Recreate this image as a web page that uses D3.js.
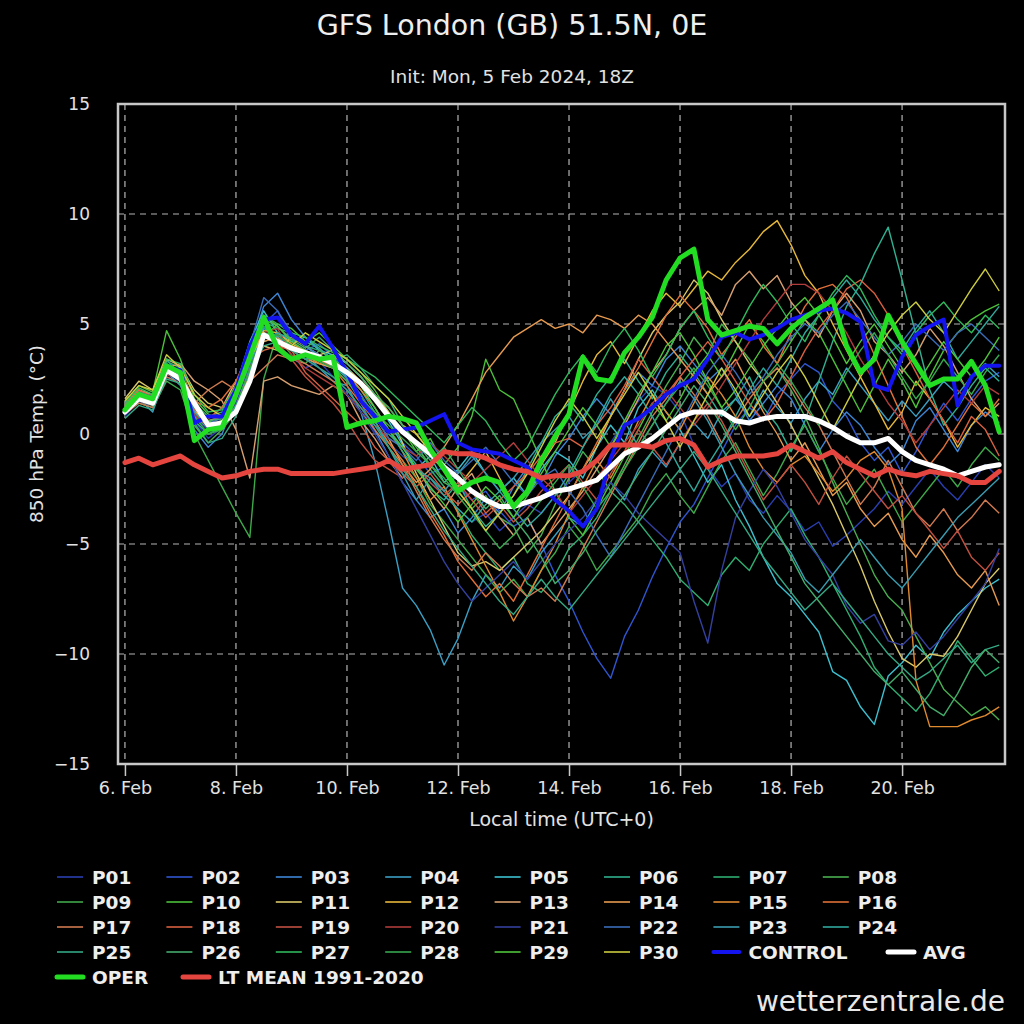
<!DOCTYPE html>
<html><head><meta charset="utf-8">
<script src="https://cdn.jsdelivr.net/npm/d3@7"></script>
<style>body{margin:0;background:#000}svg{display:block}</style>
</head><body>
<svg id="c" width="1024" height="1024"></svg>
<script>
// ---------- DATA ----------
const runStart = Date.UTC(2024, 1, 6, 0);           // first 6-hourly step (Init 5 Feb 18Z + 6h)
const times = d3.range(64).map(i => new Date(runStart + i * 6 * 3600 * 1000));
const xTickDays = [6, 8, 10, 12, 14, 16, 18, 20];
const yTickValues = [-15, -10, -5, 0, 5, 10, 15];

const P01=[0.8,1.5,1.2,2.6,2.4,0.6,-0.2,0.3, 1.2,3.0,4.6,4.0,3.5,3.0,3.3,2.6, 2.0,1.2,0.1,-0.4,-1.0,-1.5,-2.2,-2.8, -3.4,-4.0,-3.6,-4.4,-3.8,-3.2,-3.6,-2.8, -2.2,-1.6,-1.2,-0.4,0.6,1.5,2.2,1.8, 1.0,-0.5,-1.5,-2.4,-1.8,-3.0,-3.6,-2.8, -3.5,-4.4,-4.0,-5.1,-4.6,-4.0,-3.4,-2.6, -3.2,-2.4,-1.6,-2.4,-3.0,-2.2,-1.4,-2.0];
const P02=[1.1,1.8,1.3,3.2,2.8,1.3,0.5,0.9, 1.8,3.5,5.0,5.6,4.2,3.8,4.1,3.5, 3.0,2.4,1.6,0.8,-0.4,-1.0,-1.8,-1.5, -2.4,-3.0,-2.6,-3.5,-4.2,-3.8,-5.0,-6.4, -7.6,-9.0,-10.2,-11.1,-9.2,-8.0,-6.5,-5.2, -4.0,-3.2,-2.0,-0.8,0.4,1.2,0.6,1.8, 2.5,3.2,2.8,1.5,0.8,-0.4,-1.2,-0.6, -1.8,-0.8,0.4,1.4,0.6,1.6,2.4,2.8];
const P03=[1.4,2.0,1.6,3.4,2.6,0.2,-0.6,0.0, 1.6,3.8,5.8,6.4,5.2,4.4,3.9,3.2, 2.5,1.4,0.2,-1.0,-2.2,-3.0,-3.8,-3.4, -4.5,-3.8,-2.9,-3.6,-2.4,-1.5,-2.2,-1.0, -0.2,0.8,1.6,0.9,2.0,2.8,2.2,3.4, 4.0,3.2,2.4,3.0,1.8,0.6,1.4,2.2, 1.6,0.4,-0.8,0.2,1.0,0.4,-0.6,-1.4, -0.8,0.6,1.2,0.2,-0.8,0.4,1.0,0.5];
const P04=[0.9,1.6,1.0,2.8,2.2,0.8,0.2,0.6, 1.4,3.2,4.8,4.4,4.0,3.6,3.0,2.4, 2.2,1.0,-1.2,-4.0,-7.0,-7.8,-8.9,-10.5, -9.3,-7.6,-6.4,-7.0,-6.0,-6.6,-5.4,-4.6, -3.8,-4.2,-3.0,-2.2,-3.0,-1.6,-0.8,-1.5, -0.4,0.5,-0.2,1.0,1.6,0.8,2.0,1.2, 0.5,1.6,2.4,1.8,3.0,2.2,1.4,0.6, 1.5,0.8,1.6,2.4,1.8,2.6,3.2,2.6];
const P05=[1.2,1.7,1.5,3.0,2.6,1.0,0.6,0.8, 2.2,4.2,5.6,4.6,4.2,4.4,3.8,3.6, 3.2,2.6,1.8,0.6,-0.5,-1.6,-1.0,-2.2, -1.6,-0.8,-1.8,-2.6,-2.0,-2.8,-1.6,-0.8, -1.2,-2.0,-0.6,0.4,-0.4,1.2,2.0,1.0, 0.2,-1.0,-2.2,-1.4,-3.0,-4.2,-5.6,-6.8, -7.4,-8.2,-9.0,-10.8,-11.2,-12.4,-13.2,-11.0, -10.4,-9.6,-10.2,-9.0,-8.2,-7.6,-7.0,-6.6];
const P06=[1.0,1.5,1.3,2.8,2.7,0.9,0.2,0.4, 1.5,3.3,4.9,4.3,3.8,3.4,3.6,3.0, 2.6,2.0,1.0,0.0,-0.6,-1.4,-2.5,-3.0, -2.2,-3.4,-4.2,-3.6,-2.8,-1.6,-0.4,0.8, 1.4,0.6,1.8,2.6,3.4,2.4,1.6,2.8, 3.6,2.8,1.8,0.8,1.6,2.6,1.2,0.4, -0.8,0.6,2.4,4.2,5.8,6.8,8.2,9.4, 7.0,4.5,2.0,0.4,1.2,2.2,3.0,2.4];
const P07=[1.3,1.9,1.8,3.3,3.0,1.4,0.8,1.0, 2.0,3.6,5.1,4.8,4.6,4.0,3.8,3.4, 3.6,3.0,2.2,1.6,0.4,-0.4,-1.6,-2.4, -3.5,-4.6,-5.4,-6.2,-5.6,-6.8,-7.2,-6.4, -5.2,-4.6,-3.8,-2.6,-3.2,-4.0,-4.8,-5.6, -6.6,-7.2,-7.8,-6.4,-5.6,-6.2,-5.0,-4.2, -3.4,-4.6,-5.6,-6.8,-8.0,-9.2,-10.6,-11.4, -12.0,-12.6,-11.8,-10.6,-9.4,-10.2,-11.0,-10.6];
const P08=[1.1,1.6,1.4,2.9,2.5,0.4,-0.4,0.2, 1.0,2.8,4.2,4.4,3.6,3.2,3.8,3.4, 2.8,2.2,1.6,0.8,0.2,-0.6,-1.4,-2.2, -2.6,-3.4,-2.8,-3.8,-4.2,-5.4,-4.6,-3.2, -2.0,-0.8,-1.6,-2.6,-1.4,-0.2,1.0,2.2, 3.2,4.4,3.6,5.0,4.2,3.4,2.4,3.0, 2.0,0.8,-0.6,-2.2,-3.6,-5.0,-6.4,-7.4, -8.0,-9.2,-10.4,-11.6,-12.2,-12.8,-12.4,-13.0];
const P09=[1.0,1.4,1.2,2.4,2.0,0.0,-1.2,-2.4, -3.6,-4.7,2.5,4.6,4.0,3.6,3.2,3.0, 2.4,1.8,0.6,-0.4,-1.2,-2.0,-3.2,-4.0, -4.8,-5.6,-6.4,-7.2,-6.6,-7.4,-6.2,-5.4, -4.2,-5.0,-6.2,-5.4,-4.6,-3.8,-2.6,-1.8, -2.8,-3.6,-2.4,-1.2,-0.4,-1.6,-2.8,-1.8, -0.6,0.4,-0.8,-2.0,-3.2,-2.4,-1.6,-2.8, -4.0,-3.2,-2.4,-1.6,-2.4,-1.4,-0.6,-1.2];
const P10=[1.5,2.2,1.9,4.7,3.4,1.6,0.9,0.6, 1.8,3.4,4.4,5.0,4.8,4.2,4.6,4.0, 3.4,2.8,2.0,1.0,0.2,-0.8,-0.2,-1.4, -0.6,0.8,3.4,2.0,1.6,0.2,-1.2,-2.6, -3.8,-4.6,-3.4,-2.2,-1.0,0.2,1.4,0.6, 1.6,2.8,3.6,2.6,3.8,5.0,4.2,3.2, 4.2,5.2,4.6,3.4,2.2,1.0,2.2,3.4, 2.4,1.2,2.6,3.8,4.6,5.2,5.6,5.9];
const P11=[1.6,2.4,2.0,3.4,3.1,2.0,1.4,1.2, 2.4,3.0,4.0,3.8,4.4,4.0,3.6,3.8, 3.2,2.6,1.8,1.0,-0.4,-1.8,-3.0,-4.2, -5.4,-6.0,-5.8,-6.2,-5.6,-5.0,-4.4,-3.6, -2.8,-1.6,-0.6,0.8,2.0,3.4,4.6,5.4, 6.0,7.0,6.4,5.2,4.2,3.2,2.4,1.4, 0.4,-0.8,-2.0,-3.2,-4.6,-6.0,-7.6,-9.0, -10.2,-10.6,-10.0,-10.1,-9.2,-8.0,-6.8,-6.1];
const P12=[1.3,1.9,1.6,3.1,2.9,1.1,0.3,0.5, 1.6,3.4,4.7,4.6,4.1,3.8,3.4,3.6, 3.0,2.4,1.8,1.2,0.4,0.0,-0.8,-1.6, -2.4,-1.6,-0.8,-2.0,-3.2,-2.6,-1.4,-0.4, 1.0,2.4,3.6,4.2,3.2,4.4,5.6,6.4, 5.8,6.6,7.4,7.0,7.8,8.4,9.2,9.7, 8.6,7.2,6.4,5.0,3.8,2.6,1.4,0.2, 1.0,2.4,1.6,0.6,-0.6,0.4,1.2,0.8];
const P13=[1.4,2.0,1.8,3.0,3.2,2.4,2.0,1.5, 0.2,-2.0,2.4,2.6,2.2,2.0,1.8,2.2, 1.8,0.6,-0.2,-1.2,-2.0,-1.4,-2.6,-3.4, -2.4,-1.8,-3.0,-3.8,-4.6,-3.8,-5.0,-4.2, -3.4,-2.6,-1.6,-0.6,0.4,1.6,2.8,3.6, 4.8,5.6,6.2,5.4,6.8,7.4,6.6,7.2, 6.0,5.2,4.4,5.6,6.4,5.6,4.2,3.6, 2.8,3.6,4.8,4.0,2.8,1.6,0.8,1.4];
const P14=[1.2,1.7,1.5,2.7,2.8,1.2,0.6,0.8, 1.4,2.6,4.2,4.4,3.8,3.4,3.2,3.0, 2.4,1.6,0.8,-0.2,-1.4,-2.2,-1.6,-0.6, 0.4,1.6,2.8,3.6,4.4,4.8,5.2,4.8, 5.0,4.6,5.4,5.2,4.8,5.4,5.0,4.2, 3.4,2.6,1.8,2.6,3.4,2.2,1.0,0.0, -1.2,-0.4,-1.6,-2.8,-2.2,-3.4,-4.2,-3.6, -4.8,-5.6,-4.6,-5.4,-6.4,-7.0,-6.2,-7.8];
const P15=[1.0,1.6,1.4,2.8,2.6,1.0,0.4,0.2, 1.4,3.0,4.4,4.2,3.9,3.6,3.2,3.4, 2.8,2.0,1.2,0.2,-0.8,-2.0,-3.0,-2.4, -3.6,-4.8,-6.0,-7.2,-8.5,-7.4,-6.2,-5.0, -3.6,-2.4,-1.2,-2.0,-0.8,0.6,1.8,1.0, 0.2,1.4,2.6,1.8,0.8,-0.6,-1.6,-2.2, -1.4,-1.0,-1.8,-2.6,-2.0,-1.2,-0.8,-1.6, -3.4,-11.2,-13.3,-13.3,-13.3,-13.0,-12.8,-12.4];
const P16=[1.3,2.0,1.7,3.1,2.9,1.5,1.2,1.6, 2.4,3.8,4.6,4.2,4.0,3.8,3.4,3.0, 2.2,1.4,0.6,-0.4,-1.2,-2.4,-3.6,-4.6, -5.8,-6.6,-7.4,-6.8,-7.6,-6.4,-5.2,-4.0, -2.8,-1.6,-0.4,0.8,2.0,3.0,4.2,5.4, 6.3,5.6,4.8,3.6,4.4,5.2,4.0,3.2, 4.6,5.8,6.6,6.8,6.2,5.0,3.6,2.2, 0.8,-0.6,-1.4,-0.6,0.4,1.4,0.8,1.6];
const P17=[0.9,1.4,1.2,2.6,2.3,1.4,2.0,2.4, 2.0,2.4,3.0,3.6,3.4,3.2,2.8,2.4, 1.8,1.0,0.2,-0.6,-1.4,-2.6,-3.8,-4.8, -5.6,-6.2,-5.4,-6.0,-6.8,-7.4,-7.0,-7.6, -6.4,-5.2,-4.0,-2.8,-1.6,-0.4,0.8,1.6, 2.6,1.8,0.8,-0.4,0.6,1.6,2.4,3.0, 2.2,1.2,0.4,-0.8,-2.0,-3.2,-2.4,-1.2, -2.4,-3.6,-4.2,-3.4,-4.4,-3.8,-3.0,-3.6];
const P18=[1.1,1.7,1.5,3.0,2.8,1.1,0.7,1.2, 2.2,3.4,3.8,4.0,3.8,2.8,2.2,1.6, 1.0,0.4,-0.6,-1.2,-1.8,-2.4,-1.8,-2.6, -3.2,-2.6,-3.6,-3.0,-2.4,-1.8,-1.0,-0.4, -0.2,-0.6,0.4,1.2,2.2,3.4,2.6,1.8, 2.6,3.4,4.2,3.4,2.4,1.4,0.6,1.4, 2.6,3.8,4.8,5.6,6.6,7.0,6.4,5.4, 4.0,2.8,1.6,0.6,-0.4,0.8,0.2,-1.0];
const P19=[1.2,1.8,1.4,2.9,2.6,0.8,0.4,0.6, 1.6,3.2,4.4,4.1,3.4,2.6,2.0,1.4, 0.6,-0.4,-1.2,-1.6,-2.0,-1.4,-2.2,-2.8, -2.2,-3.0,-3.8,-3.2,-4.0,-3.4,-2.6,-2.0, -1.4,-2.2,-3.0,-1.8,-0.8,0.2,-0.6,-1.4, -0.4,0.6,1.4,0.6,-0.6,-1.8,-3.0,-2.2, -1.4,-2.2,-3.2,-2.0,-1.0,-1.8,-2.6,-3.4, -2.8,-3.6,-4.4,-5.2,-4.4,-5.6,-6.2,-5.4];
const P20=[1.0,1.5,1.3,2.7,2.5,0.9,0.3,0.5, 1.4,3.0,4.6,4.8,3.6,3.0,2.6,2.2, 1.8,1.2,0.4,-0.2,-0.6,-1.0,-0.4,-1.0, -1.6,-2.2,-1.6,-1.0,-0.4,-1.2,-2.0,-2.6, -3.6,-2.8,-2.0,-1.2,-0.4,0.4,1.4,2.0, 1.2,0.4,1.2,2.2,3.2,4.2,5.2,6.0, 6.8,6.8,6.4,5.6,4.6,3.4,2.4,1.4, 0.6,-0.4,0.4,1.2,2.0,1.4,2.2,1.8];
const P21=[0.9,1.5,1.4,2.8,2.4,0.7,0.2,0.5, 1.4,3.2,4.4,4.2,3.8,3.4,3.0,2.6, 1.8,1.0,0.0,-1.0,-2.2,-3.4,-4.6,-5.8, -6.8,-7.6,-7.0,-6.4,-5.8,-6.6,-5.8,-5.0, -4.4,-3.8,-3.0,-2.2,-2.8,-3.6,-4.2,-4.8, -5.4,-7.6,-9.5,-6.2,-3.8,-2.6,-1.6,-2.4, -3.6,-4.8,-5.6,-6.4,-7.8,-8.6,-8.2,-9.4, -9.6,-9.0,-9.8,-9.2,-8.4,-7.6,-6.8,-5.2];
const P22=[1.3,1.9,1.7,3.2,2.7,1.2,0.5,0.7, 1.9,4.0,6.2,5.6,4.6,4.0,3.6,3.2, 2.6,1.8,0.8,-0.2,-0.6,-1.2,-0.4,-1.2, -1.8,-1.2,-0.6,-1.4,-2.2,-2.8,-2.0,-1.6, -2.6,-3.4,-4.6,-5.6,-4.4,-3.2,-2.0,-0.8, 0.4,1.6,2.8,3.6,2.8,1.8,2.6,3.6, 4.4,5.0,4.6,5.4,6.0,5.2,4.4,3.6, 4.2,5.0,4.4,3.8,4.6,5.0,4.4,3.8];
const P23=[1.0,1.6,1.5,3.0,2.7,1.0,0.3,0.4, 1.6,3.2,4.6,4.4,4.6,4.0,3.5,3.2, 2.6,1.6,0.6,-0.6,-1.8,-3.0,-2.0,-2.6, -1.8,-1.0,-1.8,-2.6,-2.0,-1.2,-0.4,0.2, 0.8,-0.2,0.4,1.6,0.6,-0.6,0.4,1.4, 2.4,1.6,0.6,-0.6,-1.8,-2.8,-3.8,-4.6, -5.4,-6.6,-7.2,-6.4,-5.6,-4.8,-5.6,-6.4, -7.0,-6.2,-5.4,-4.6,-3.8,-3.2,-2.6,-2.0];
const P24=[1.1,1.7,1.4,2.9,2.6,0.6,0.0,0.3, 1.3,2.9,4.3,4.6,4.3,4.2,3.9,3.4, 3.0,2.2,1.2,0.2,-0.8,-1.6,-2.0,-2.8, -3.4,-4.0,-3.2,-2.6,-3.4,-4.2,-3.6,-2.8, -1.8,-0.6,0.6,1.8,2.6,1.8,0.8,-0.4, -1.6,-2.6,-1.4,-0.4,0.8,2.0,3.0,2.2, 3.4,4.6,5.4,6.2,7.0,6.2,5.2,4.4, 3.8,4.8,5.6,4.6,3.4,4.2,5.0,5.8];
const P25=[0.7,1.3,1.1,2.5,2.3,0.5,-0.4,-0.2, 0.8,2.6,4.0,4.2,3.8,3.4,3.0,2.6, 2.0,1.2,0.4,-0.6,-1.6,-2.4,-3.4,-4.4, -5.2,-6.0,-6.8,-7.6,-8.2,-7.4,-6.6,-7.4, -8.0,-7.2,-6.4,-5.6,-4.8,-4.0,-3.2,-2.4, -1.6,-0.8,-1.6,-2.6,-3.6,-4.6,-5.6,-6.4, -7.2,-8.0,-7.4,-6.8,-7.6,-8.4,-9.2,-10.0, -10.6,-11.2,-10.8,-10.2,-9.6,-10.4,-9.8,-9.6];
const P26=[1.2,1.8,1.6,3.1,2.8,1.2,0.6,0.7, 1.9,3.6,5.2,4.9,4.3,3.9,4.4,3.8, 3.2,2.6,1.8,1.2,0.4,-0.4,-1.2,-0.6, -1.6,-2.6,-3.4,-2.8,-3.8,-4.6,-5.6,-6.8, -6.2,-5.4,-4.4,-3.6,-2.8,-1.8,-0.8,0.2, 1.2,2.2,1.4,0.4,-0.8,-2.0,-3.2,-4.4, -5.6,-6.8,-7.6,-8.4,-9.2,-10.0,-10.8,-11.4, -10.8,-11.6,-12.4,-12.8,-11.8,-10.6,-9.8,-10.4];
const P27=[1.4,2.1,1.8,3.4,3.2,1.8,1.0,1.1, 2.2,3.8,5.4,5.0,4.6,4.4,4.0,3.7, 3.4,3.0,2.6,2.0,1.4,0.8,0.2,-0.4, 0.4,1.2,0.6,-0.4,-1.2,-0.6,0.6,1.8, 2.8,3.6,2.8,4.0,4.8,3.8,2.6,3.6, 4.8,5.6,4.4,3.4,4.6,5.8,6.8,6.0, 5.0,4.2,5.4,6.4,7.2,6.6,5.4,4.4, 3.6,4.6,5.4,6.0,5.2,4.6,5.4,4.8];
const P28=[1.0,1.6,1.3,2.8,2.5,0.8,0.0,0.2, 1.2,3.0,4.5,4.5,4.0,3.7,3.3,3.0, 2.4,1.6,1.0,0.4,-0.2,-0.8,-1.4,-2.0, -2.8,-3.6,-4.4,-5.2,-4.6,-3.8,-3.0,-2.2, -1.4,-2.4,-3.4,-2.6,-1.6,-0.6,0.4,1.4, 2.2,3.0,2.2,1.2,0.2,1.2,2.4,3.2, 2.4,1.4,0.4,1.6,2.8,3.8,4.6,3.6, 2.6,1.6,2.4,3.4,2.6,1.8,2.8,3.6];
const P29=[1.3,1.9,1.5,3.0,2.9,1.3,0.6,0.3, 1.6,3.6,5.4,4.9,4.2,3.8,3.4,3.2, 2.8,2.2,1.2,0.2,-0.6,-1.6,-2.4,-3.2, -4.0,-3.2,-2.4,-3.0,-3.8,-2.8,-1.8,-0.8, 0.2,1.2,0.4,-0.6,0.6,1.8,2.8,4.0, 4.6,3.6,2.4,1.2,2.0,3.0,4.0,4.8, 5.6,6.2,5.4,4.4,3.2,4.2,5.0,4.0, 3.0,2.2,3.2,4.2,3.4,2.6,3.4,4.4];
const P30=[1.5,2.2,2.0,3.6,3.0,1.8,1.2,0.8, 2.0,3.4,4.6,4.2,4.0,4.6,4.2,3.8, 3.4,2.8,2.2,1.6,0.8,0.0,-0.8,-1.6, -2.6,-3.4,-4.4,-3.6,-2.8,-1.8,-0.6,0.6, 1.6,0.8,-0.2,0.8,1.8,2.8,1.8,0.6, -0.6,0.6,1.8,3.0,2.0,0.8,1.8,2.8, 3.6,2.6,1.4,0.2,1.4,2.6,3.6,4.6, 5.4,6.0,5.2,4.6,5.6,6.6,7.5,6.5];

const CONTROL=[1.0,1.7,1.5,3.0,2.9,0.5,0.8,0.8, 2.0,4.0,5.2,5.3,4.5,4.1,4.9,3.9, 2.8,1.5,0.8,0.1,0.2,0.3,0.6,0.9, -0.4,-0.7,-0.8,-0.9,-1.2,-1.5,-2.3,-3.0, -3.5,-4.2,-3.4,-1.1,0.4,0.7,1.2,1.8, 2.2,2.5,3.4,4.4,4.6,4.3,4.5,4.8, 5.2,5.4,5.6,5.7,5.5,5.1,2.2,2.0, 3.5,4.5,4.9,5.2,1.3,2.6,3.1,3.1];
const AVG=[1.0,1.6,1.4,2.9,2.5,1.4,0.4,0.5, 1.0,2.4,4.5,4.2,3.9,3.7,3.5,3.2, 2.8,2.3,1.6,0.8,0.1,-0.4,-0.9,-1.5, -2.0,-2.6,-3.0,-3.3,-3.3,-3.1,-2.9,-2.6, -2.5,-2.3,-2.1,-1.5,-0.9,-0.6,-0.2,0.3, 0.8,1.0,1.0,1.0,0.6,0.5,0.7,0.8, 0.8,0.8,0.6,0.3,-0.1,-0.4,-0.4,-0.2, -0.8,-1.2,-1.4,-1.6,-1.9,-1.7,-1.5,-1.4];
const OPER=[1.1,1.8,1.6,3.1,2.8,-0.3,0.2,0.3, 1.8,3.5,5.3,3.9,3.4,3.6,3.4,3.5, 0.3,0.5,0.6,0.8,0.7,0.5,-0.7,-1.6, -2.6,-2.2,-2.0,-2.2,-3.3,-2.6,-1.2,-0.1, 0.9,3.5,2.5,2.4,3.7,4.4,5.3,7.0, 8.0,8.4,5.2,4.5,4.7,4.9,4.8,4.1, 4.8,5.3,5.7,6.1,4.0,2.8,3.4,5.4, 4.2,3.2,2.2,2.5,2.5,3.3,2.2,0.1];
const LT_MEAN=[-1.3,-1.1,-1.4,-1.2,-1.0,-1.4,-1.7,-2.0, -1.9,-1.7,-1.6,-1.6,-1.8,-1.8,-1.8,-1.8, -1.7,-1.6,-1.5,-1.2,-1.6,-1.5,-1.4,-0.8, -0.9,-0.9,-1.1,-1.4,-1.6,-1.7,-2.0,-1.9, -1.9,-1.7,-1.2,-0.5,-0.5,-0.5,-0.6,-0.3, -0.2,-0.5,-1.5,-1.2,-1.0,-1.0,-1.0,-0.9, -0.5,-0.8,-1.1,-0.8,-1.3,-1.6,-1.9,-1.6, -1.8,-1.9,-1.7,-1.8,-1.9,-2.2,-2.2,-1.7];

const members=[P01,P02,P03,P04,P05,P06,P07,P08,P09,P10,P11,P12,P13,P14,P15,P16,P17,P18,P19,P20,P21,P22,P23,P24,P25,P26,P27,P28,P29,P30];
const memberNames = members.map((_, i) => "P" + String(i + 1).padStart(2, "0"));

// ---------- STYLE ----------
const memberColors=["#2a3fb0","#2f56d0","#3d86d6","#3a9fc4","#3cc0d0","#2fb090","#2fae72","#4aae50","#3fa84a","#4cc03a",
 "#d8c86a","#e6b83a","#d8a070","#e69a50","#e08a30","#e07038","#d07a50","#d86040","#c05040","#b03c3c",
 "#34409e","#3a6cb8","#3a9cb0","#30a89c","#34a884","#44ac6c","#30b85c","#38a850","#50c43c","#cccc40"];
const special=[
  {name:"CONTROL", data:CONTROL, color:"#1414f0", w:4},
  {name:"AVG", data:AVG, color:"#ffffff", w:5},
  {name:"OPER", data:OPER, color:"#22dd22", w:5},
  {name:"LT MEAN 1991-2020", data:LT_MEAN, color:"#e5453f", w:5}
];
const FONT = "'DejaVu Sans', Verdana, sans-serif";
const TXT = "#e2e2e2";

// ---------- CHART ----------
const svg = d3.select("#c");
svg.append("rect").attr("width",1024).attr("height",1024).attr("fill","#000");

const L=118, R=1005, T=104, B=764;
const x = d3.scaleUtc().domain([Date.UTC(2024,1,5,21), Date.UTC(2024,1,21,20,30)]).range([L,R]);
const y = d3.scaleLinear().domain([-15,15]).range([B,T]);

svg.append("text").attr("x",512).attr("y",35).attr("text-anchor","middle")
  .attr("font-family",FONT).attr("font-size",28.5).attr("fill","#eeeeee").text("GFS London (GB) 51.5N, 0E");
svg.append("text").attr("x",512).attr("y",83).attr("text-anchor","middle")
  .attr("font-family",FONT).attr("font-size",18.5).attr("fill",TXT).text("Init: Mon, 5 Feb 2024, 18Z");

const xTicks = xTickDays.map(d => new Date(Date.UTC(2024,1,d)));

// grid
const grid = svg.append("g").attr("stroke","#b4b4b4").attr("stroke-width",1.2).attr("stroke-dasharray","6,5");
grid.selectAll(".gx").data(xTicks).join("line")
  .attr("x1",d=>x(d)).attr("x2",d=>x(d)).attr("y1",T).attr("y2",B);
grid.selectAll(".gy").data(yTickValues.filter(v=>v>-15&&v<15)).join("line")
  .attr("x1",L).attr("x2",R).attr("y1",d=>y(d)).attr("y2",d=>y(d));

// lines
svg.append("clipPath").attr("id","clip").append("rect").attr("x",L).attr("y",T).attr("width",R-L).attr("height",B-T);
const plot = svg.append("g").attr("clip-path","url(#clip)");
const line = d3.line().x((d,i)=>x(times[i])).y(d=>y(d));
plot.selectAll(".m").data(members).join("path")
  .attr("fill","none").attr("stroke",(d,i)=>memberColors[i]).attr("stroke-width",1.4)
  .attr("stroke-linejoin","round").attr("d",line);
plot.selectAll(".s").data(special).join("path")
  .attr("fill","none").attr("stroke",d=>d.color).attr("stroke-width",d=>d.w)
  .attr("stroke-linejoin","round").attr("stroke-linecap","round").attr("d",d=>line(d.data));

// border
svg.append("rect").attr("x",L).attr("y",T).attr("width",R-L).attr("height",B-T)
  .attr("fill","none").attr("stroke","#c8c8c8").attr("stroke-width",2.5);

// x axis
const xAxis = svg.append("g").attr("transform",`translate(0,${B})`)
  .call(d3.axisBottom(x).tickValues(xTicks).tickFormat(d3.utcFormat("%-d. %b")).tickSize(12).tickPadding(6));
xAxis.select(".domain").remove();
xAxis.selectAll("line").attr("stroke","#c8c8c8").attr("stroke-width",1.5);
xAxis.selectAll("text").attr("fill",TXT).attr("font-family",FONT).attr("font-size",17.5);

// y axis
const yAxis = svg.append("g").attr("transform",`translate(${L},0)`)
  .call(d3.axisLeft(y).tickValues(yTickValues).tickSize(0).tickPadding(28));
yAxis.select(".domain").remove();
yAxis.selectAll("text").attr("fill",TXT).attr("font-family",FONT).attr("font-size",17);

svg.append("text").attr("x",(L+R)/2).attr("y",826).attr("text-anchor","middle")
  .attr("font-family",FONT).attr("font-size",19).attr("fill",TXT).text("Local time (UTC+0)");
svg.append("text").attr("transform",`translate(43,${(T+B)/2}) rotate(-90)`).attr("text-anchor","middle")
  .attr("font-family",FONT).attr("font-size",18.5).attr("fill",TXT).text("850 hPa Temp. (°C)");

// legend
const items = memberNames.map((n,i)=>({name:n,color:memberColors[i],w:1.6}))
  .concat(special.map(s=>({name:s.name,color:s.color,w:s.w})));
const lg = svg.append("g").attr("font-family",FONT).attr("font-size",18.5).attr("font-weight","bold");
items.forEach((it,i)=>{
  let row, xs;
  if (i < 32) { row = Math.floor(i/8); xs = 57 + (i%8)*109.4; }
  else { row = 4; xs = 57 + (i-32)*126; }
  if (it.name === "AVG") xs = 888;
  const cy = 877 + row*25;
  lg.append("line").attr("x1",xs).attr("x2",xs+26).attr("y1",cy).attr("y2",cy)
    .attr("stroke",it.color).attr("stroke-width",it.w).attr("stroke-linecap",it.w>2?"round":"butt");
  lg.append("text").attr("x",xs+35).attr("y",cy+6.6).attr("fill","#eeeeee").text(it.name);
});

svg.append("text").attr("x",1005).attr("y",1011).attr("text-anchor","end")
  .attr("font-family",FONT).attr("font-size",28).attr("fill","#e8e8e8").text("wetterzentrale.de");
</script>
</body></html>
